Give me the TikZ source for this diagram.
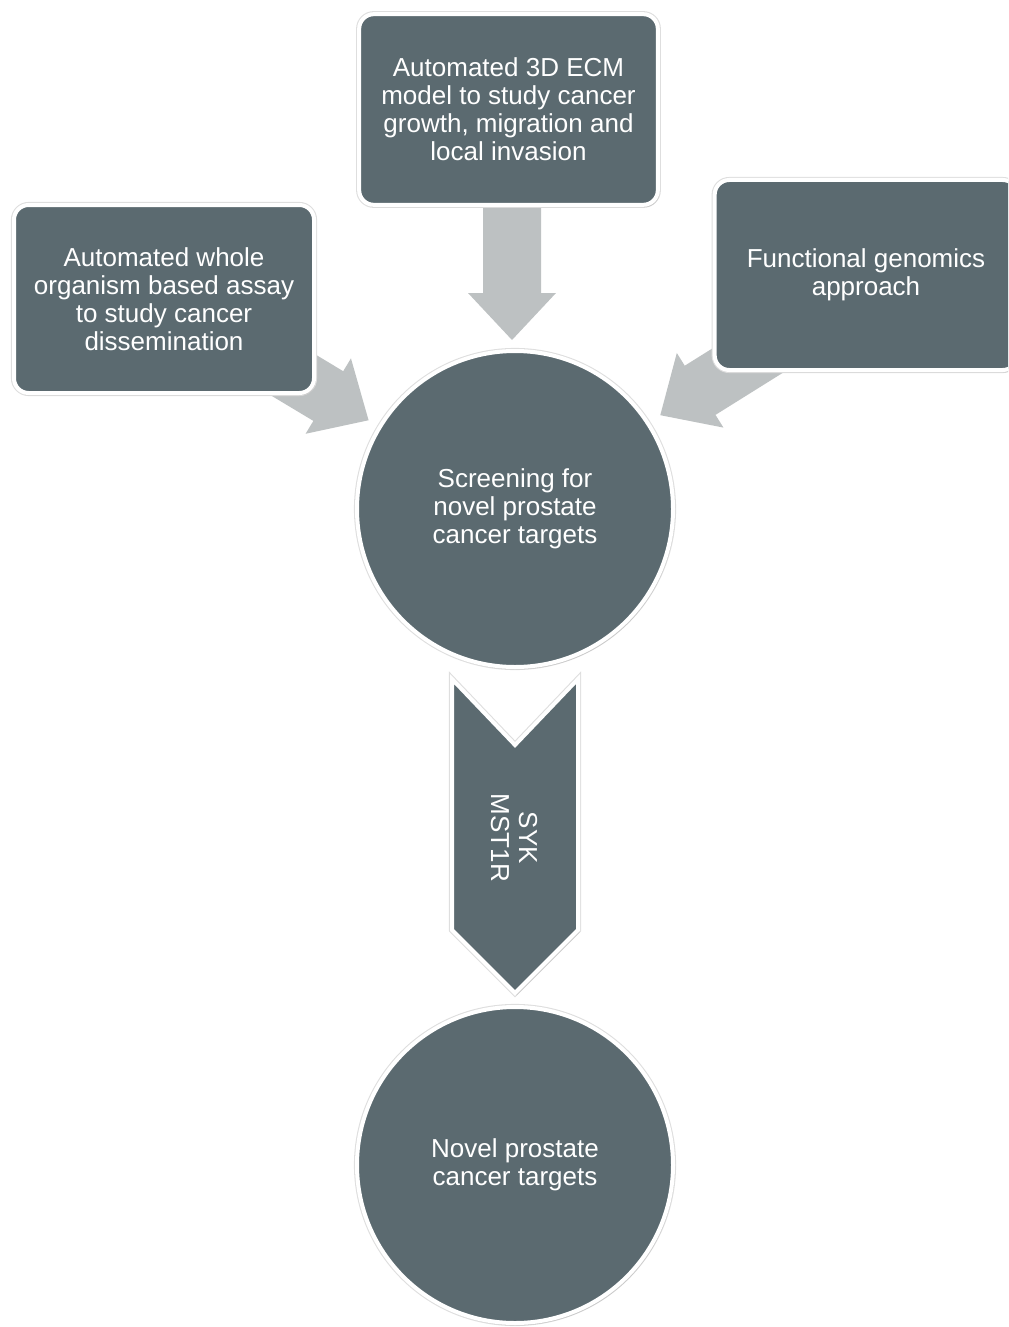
\documentclass[tikz,border=0pt]{standalone}
\usepackage{fontspec}
\setmainfont{Liberation Sans}
\usetikzlibrary{shadows}
\definecolor{slate}{HTML}{5B6A70}
\definecolor{arrowgray}{HTML}{BDC1C2}
\newcommand\blockarrow[3]{%
  \begin{scope}[shift={(#1)},rotate=#2]
    \fill[arrowgray] (0,-29) -- (#3-47,-29) -- (#3-47,-44) -- (#3,0) -- (#3-47,44) -- (#3-47,29) -- (0,29) -- cycle;
  \end{scope}}
\begin{document}
\begin{tikzpicture}[x=0.75pt,y=-0.75pt,
  every node/.style={font=\fontsize{19.5}{21}\selectfont, text=white, align=center},
  bordered/.style={fill=slate, draw=white, line width=3pt,
    preaction={draw=black!13, line width=4.6pt},
    drop shadow={opacity=0.22, shadow xshift=1.2pt, shadow yshift=-1.8pt}},
  box/.style={bordered, rounded corners=11pt, inner sep=0pt}]
\useasboundingbox (0,0) rectangle (1008,1327);
\clip (0,0) rectangle (1008,1327);
% connector anchors
\coordinate (a1s) at (512,200);
\coordinate (a2s) at (240,343);
\coordinate (a3s) at (779,341);
\blockarrow{a1s}{-90}{140}
\blockarrow{a2s}{-31}{150}
\blockarrow{a3s}{-148}{140}
% boxes
\node[box, minimum width=224pt, minimum height=143pt] (top) at (508.5,109.5)
  {Automated 3D ECM\\model to study cancer\\growth, migration and\\local invasion};
\node[box, minimum width=225pt, minimum height=141pt] (left) at (164,299)
  {Automated whole\\organism based assay\\to study cancer\\dissemination};
\node[box, minimum width=227pt, minimum height=142.5pt] (right) at (866,275)
  {Functional genomics\\approach};
% circles
\node[bordered, circle, minimum size=237pt, inner sep=0pt] (screen) at (515,509)
  {Screening for\\novel prostate\\cancer targets};
\node[bordered, circle, minimum size=237pt, inner sep=0pt] (novel) at (515,1165)
  {Novel prostate\\cancer targets};
% chevron
\draw[bordered, line join=miter] (452,679) -- (515,745) -- (578,679) -- (578,930) -- (515,993) -- (452,930) -- cycle;
\node[rotate=-90] (genes) at (514,838) {SYK\\MST1R};
\end{tikzpicture}
\end{document}
